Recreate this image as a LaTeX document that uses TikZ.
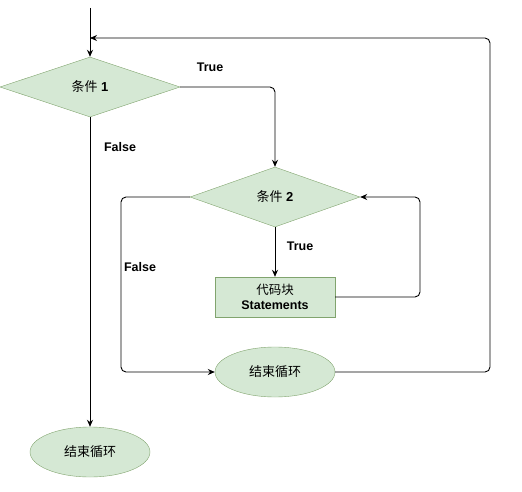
\documentclass[tikz,border=0pt]{standalone}
\usepackage{fontspec}
\setmainfont{Liberation Sans}
\newfontfamily\cjk{Noto Sans CJK SC}
\usetikzlibrary{shapes.geometric,arrows.meta}
\definecolor{gfill}{HTML}{D5E8D4}
\definecolor{gdraw}{HTML}{82B366}
\tikzset{
  x=1pt,y=-1pt,
  every node/.style={font=\fontsize{13}{15}\selectfont},
  decision/.style={diamond,draw=gdraw!70!gray,fill=gfill,inner sep=0pt,minimum width=#1,minimum height=60pt,aspect=3},
  proc/.style={rectangle,draw=gdraw!70!gray,fill=gfill,minimum width=120pt,minimum height=40pt,inner sep=0pt,align=center,font=\fontsize{12.5}{15}\selectfont},
  term/.style={ellipse,draw=gdraw!70!gray,fill=gfill,minimum width=120pt,minimum height=50pt,inner sep=0pt},
  conn/.style={draw,line width=0.9pt,rounded corners=5pt,-{Stealth[length=7pt,width=6pt]}},
  lbl/.style={font=\bfseries\fontsize{12.5}{15}\selectfont}
}
\begin{document}
\begin{tikzpicture}
\useasboundingbox (0,0) rectangle (522,492);
\node[decision=180pt] (d1) at (90,87) {{\cjk 条件} \textbf{1}};
\node[decision=170pt] (d2) at (275,197) {{\cjk 条件} \textbf{2}};
\node[proc] (blk) at (275,297) {{\cjk 代码块}\\\textbf{Statements}};
\node[term] (e2) at (275,372) {\cjk 结束循环};
\node[term] (e1) at (90,452) {\cjk 结束循环};
\coordinate (start) at (90,8);
\coordinate (loopend) at (90,38);
\draw[conn] (start) -- (d1.north);
\draw[conn] (d1.east) -| (d2.north);
\draw[conn] (d1.south) -- (e1.north);
\draw[conn] (d2.south) -- (blk.north);
\draw[conn] (blk.east) -- (420,297) -- (420,197) -- (d2.east);
\draw[conn] (d2.west) -- (121,197) -- (121,372) -- (e2.west);
\draw[conn] (e2.east) -- (490,372) -- (490,38) -- (loopend);
\node[lbl] (t1) at (210,67) {True};
\node[lbl] (f1) at (120,147) {False};
\node[lbl] (t2) at (300,246) {True};
\node[lbl] (f2) at (140,267) {False};
\end{tikzpicture}
\end{document}
